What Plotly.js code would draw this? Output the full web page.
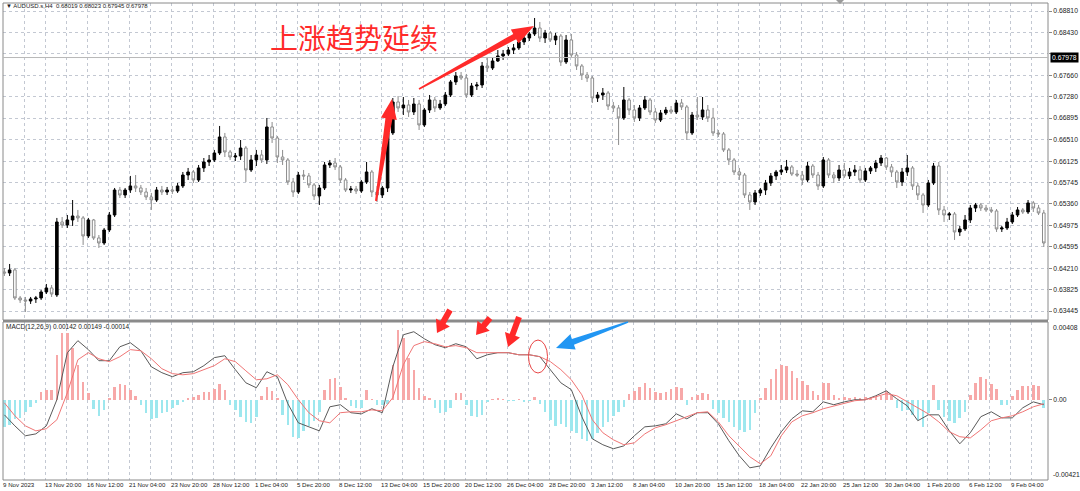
<!DOCTYPE html>
<html><head><meta charset="utf-8">
<script src="https://cdn.plot.ly/plotly-3.0.1.min.js"></script>
<style>html,body{margin:0;padding:0;background:#fff}#chart{width:1080px;height:491px}</style>
</head><body><div id="chart"></div>
<script>
// ---- data (each bar = 8h, i.e. two H4 candles) ----
const timeLabels = ["9 Nov 2023","13 Nov 20:00","16 Nov 12:00","21 Nov 04:00","23 Nov 20:00","28 Nov 12:00","1 Dec 04:00","5 Dec 20:00","8 Dec 12:00","13 Dec 04:00","15 Dec 20:00","20 Dec 12:00","26 Dec 04:00","28 Dec 20:00","3 Jan 12:00","8 Jan 04:00","10 Jan 20:00","15 Jan 12:00","18 Jan 04:00","22 Jan 20:00","25 Jan 12:00","30 Jan 04:00","1 Feb 20:00","6 Feb 12:00","9 Feb 04:00"];
const priceTicks = [0.68810,0.68430,0.68045,0.67660,0.67280,0.66895,0.66510,0.66125,0.65745,0.65360,0.64975,0.64595,0.64210,0.63825,0.63445];
const macdTicks = [0.00408,0,-0.00421];

const open = [
0.64143,0.64125,0.64179,0.63678,0.63642,0.63624,0.63660,0.63678,0.63785,0.63857,
0.63732,0.65037,0.64983,0.65073,0.65144,0.65109,0.64787,0.65073,0.64751,0.64661,
0.64894,0.65162,0.65609,0.65520,0.65609,0.65681,0.65645,0.65573,0.65484,0.65430,
0.65609,0.65573,0.65609,0.65591,0.65681,0.65877,0.65931,0.65788,0.66003,0.66110,
0.66146,0.66271,0.66557,0.66289,0.66199,0.66217,0.66360,0.65967,0.66146,0.66235,
0.66146,0.66736,0.66539,0.66199,0.66146,0.65752,0.65573,0.65877,0.65860,0.65699,
0.65502,0.65645,0.66056,0.66092,0.66021,0.65788,0.65609,0.65627,0.65591,0.65752,
0.65931,0.65573,0.65520,0.65645,0.66629,0.67183,0.67076,0.67129,0.67004,0.67147,
0.66772,0.67040,0.67219,0.67076,0.67147,0.67308,0.67541,0.67648,0.67612,0.67308,
0.67469,0.67487,0.67827,0.67791,0.67916,0.68006,0.68041,0.68113,0.68149,0.68256,
0.68327,0.68399,0.68506,0.68327,0.68417,0.68292,0.68363,0.67898,0.68292,0.68023,
0.67827,0.67666,0.67612,0.67254,0.67308,0.67344,0.67111,0.67076,0.66897,0.67219,
0.67040,0.66897,0.67076,0.67219,0.67004,0.66861,0.66986,0.67040,0.67004,0.67165,
0.67094,0.66629,0.66950,0.66915,0.67040,0.66897,0.66629,0.66611,0.66325,0.66146,
0.65931,0.65877,0.65520,0.65395,0.65556,0.65609,0.65734,0.65860,0.65931,0.65967,
0.66021,0.65895,0.65877,0.65788,0.66038,0.65877,0.65681,0.66146,0.65877,0.65824,
0.65967,0.65860,0.65931,0.65967,0.65788,0.65949,0.66003,0.66092,0.66181,0.66021,
0.65931,0.65752,0.65931,0.66003,0.65681,0.65520,0.65341,0.65734,0.66038,0.65252,
0.65162,0.65180,0.64858,0.64912,0.65073,0.65287,0.65341,0.65287,0.65252,0.65234,
0.64912,0.64930,0.65037,0.65162,0.65252,0.65216,0.65377,0.65287,0.65198];
const high = [
0.64214,0.64286,0.64214,0.63714,0.63696,0.63696,0.63714,0.63821,0.63928,0.63910,
0.65109,0.65126,0.65162,0.65430,0.65252,0.65144,0.65109,0.65091,0.64804,0.64930,
0.65216,0.65645,0.65663,0.65645,0.65860,0.65877,0.65699,0.65645,0.65556,0.65663,
0.65681,0.65663,0.65681,0.65734,0.65931,0.66003,0.65967,0.66056,0.66181,0.66235,
0.66325,0.66754,0.66629,0.66325,0.66271,0.66503,0.66396,0.66235,0.66325,0.66325,
0.66897,0.66825,0.66575,0.66325,0.66181,0.65824,0.65931,0.65967,0.65913,0.65734,
0.65699,0.66110,0.66146,0.66181,0.66056,0.65824,0.65681,0.65681,0.65788,0.66110,
0.65967,0.65681,0.65681,0.66682,0.67254,0.67290,0.67272,0.67219,0.67254,0.67219,
0.67076,0.67308,0.67272,0.67219,0.67362,0.67576,0.67719,0.67719,0.67684,0.67523,
0.67541,0.67898,0.67988,0.67970,0.68113,0.68113,0.68166,0.68220,0.68292,0.68381,
0.68435,0.68685,0.68614,0.68471,0.68453,0.68417,0.68399,0.68381,0.68399,0.68077,
0.67862,0.67719,0.67648,0.67362,0.67433,0.67380,0.67183,0.67129,0.67451,0.67254,
0.67129,0.67129,0.67290,0.67254,0.67076,0.67040,0.67094,0.67111,0.67219,0.67237,
0.67129,0.67004,0.67272,0.67272,0.67129,0.67076,0.66682,0.66646,0.66360,0.66181,
0.66003,0.65913,0.65573,0.65609,0.65645,0.65788,0.65913,0.65967,0.66056,0.66146,
0.66056,0.65967,0.65949,0.66110,0.66074,0.65931,0.66199,0.66181,0.65931,0.66056,
0.66092,0.66003,0.66056,0.66038,0.66003,0.66038,0.66146,0.66235,0.66199,0.66074,
0.65967,0.66003,0.66235,0.66038,0.65734,0.65556,0.65788,0.66092,0.66110,0.65323,
0.65216,0.65216,0.64966,0.65162,0.65341,0.65377,0.65377,0.65341,0.65305,0.65269,
0.64966,0.65109,0.65216,0.65305,0.65287,0.65430,0.65413,0.65341,0.65252];
const low = [
0.64071,0.64071,0.63642,0.63589,0.63427,0.63571,0.63589,0.63642,0.63749,0.63696,
0.63696,0.64930,0.64930,0.64966,0.65037,0.64626,0.64751,0.64715,0.64572,0.64626,
0.64858,0.65126,0.65466,0.65466,0.65556,0.65573,0.65520,0.65430,0.65252,0.65395,
0.65520,0.65520,0.65538,0.65556,0.65645,0.65788,0.65734,0.65752,0.65931,0.66038,
0.66110,0.66235,0.66199,0.66146,0.66128,0.66146,0.65752,0.65931,0.66038,0.66092,
0.66074,0.66450,0.66092,0.66056,0.65699,0.65484,0.65538,0.65788,0.65645,0.65430,
0.65341,0.65609,0.66003,0.65967,0.65734,0.65573,0.65556,0.65538,0.65556,0.65717,
0.65484,0.65395,0.65466,0.65573,0.66593,0.67004,0.66950,0.66915,0.66950,0.66682,
0.66736,0.66986,0.67004,0.67040,0.67111,0.67272,0.67487,0.67576,0.67254,0.67272,
0.67398,0.67433,0.67719,0.67755,0.67898,0.67934,0.68006,0.68041,0.68113,0.68202,
0.68274,0.68363,0.68256,0.68238,0.68256,0.68202,0.67827,0.67862,0.67970,0.67755,
0.67576,0.67541,0.67165,0.67183,0.67219,0.67040,0.67004,0.66414,0.66861,0.66950,
0.66825,0.66843,0.67040,0.66950,0.66807,0.66825,0.66950,0.66968,0.66968,0.67040,
0.66503,0.66593,0.66861,0.66861,0.66825,0.66575,0.66557,0.66289,0.66056,0.65877,
0.65788,0.65466,0.65252,0.65341,0.65502,0.65520,0.65681,0.65788,0.65877,0.65913,
0.65860,0.65842,0.65699,0.65752,0.65824,0.65609,0.65645,0.65824,0.65734,0.65770,
0.65824,0.65806,0.65860,0.65734,0.65752,0.65895,0.65931,0.66038,0.65967,0.65842,
0.65645,0.65681,0.65860,0.65609,0.65430,0.65198,0.65305,0.65699,0.65162,0.65037,
0.65073,0.64715,0.64787,0.64876,0.65019,0.65216,0.65234,0.65216,0.65198,0.64858,
0.64858,0.64894,0.65001,0.65126,0.65180,0.65180,0.65216,0.65162,0.64590];
const close = [
0.64125,0.64179,0.63678,0.63642,0.63624,0.63660,0.63678,0.63785,0.63857,0.63749,
0.65037,0.64983,0.65073,0.65144,0.65109,0.64787,0.65073,0.64751,0.64661,0.64894,
0.65162,0.65609,0.65520,0.65609,0.65681,0.65645,0.65573,0.65484,0.65430,0.65609,
0.65573,0.65609,0.65591,0.65681,0.65877,0.65931,0.65788,0.66003,0.66110,0.66146,
0.66271,0.66557,0.66289,0.66199,0.66217,0.66360,0.65967,0.66146,0.66235,0.66146,
0.66736,0.66539,0.66199,0.66146,0.65752,0.65573,0.65877,0.65860,0.65699,0.65502,
0.65645,0.66056,0.66092,0.66021,0.65788,0.65609,0.65627,0.65591,0.65752,0.65931,
0.65573,0.65520,0.65645,0.66629,0.67183,0.67076,0.67129,0.67004,0.67147,0.66772,
0.67040,0.67219,0.67076,0.67147,0.67308,0.67541,0.67648,0.67612,0.67308,0.67469,
0.67487,0.67827,0.67791,0.67916,0.68006,0.68041,0.68113,0.68149,0.68256,0.68327,
0.68399,0.68506,0.68327,0.68417,0.68292,0.68363,0.67898,0.68292,0.68023,0.67827,
0.67666,0.67612,0.67254,0.67308,0.67344,0.67111,0.67076,0.66897,0.67219,0.67040,
0.66897,0.67076,0.67219,0.67004,0.66861,0.66986,0.67040,0.67004,0.67165,0.67094,
0.66629,0.66950,0.66915,0.67040,0.66897,0.66629,0.66611,0.66325,0.66146,0.65931,
0.65877,0.65520,0.65395,0.65556,0.65609,0.65734,0.65860,0.65931,0.65967,0.66021,
0.65895,0.65877,0.65788,0.66038,0.65877,0.65681,0.66146,0.65877,0.65824,0.65967,
0.65860,0.65931,0.65967,0.65788,0.65949,0.66003,0.66092,0.66181,0.66021,0.65931,
0.65752,0.65931,0.66003,0.65681,0.65520,0.65341,0.65734,0.66038,0.65252,0.65162,
0.65180,0.64858,0.64912,0.65073,0.65287,0.65341,0.65287,0.65252,0.65234,0.64912,
0.64930,0.65037,0.65162,0.65252,0.65216,0.65377,0.65287,0.65198,0.64661];

// MACD main & signal, sampled every second bar
const macd = [
-0.00079,-0.00137,-0.00189,-0.00179,-0.00137,0.00000,0.00247,0.00310,0.00263,0.00205,
0.00205,0.00278,0.00299,0.00257,0.00173,0.00142,0.00121,0.00142,0.00147,0.00179,
0.00221,0.00231,0.00158,0.00089,0.00063,0.00147,0.00121,-0.00021,-0.00121,-0.00142,
-0.00163,-0.00037,-0.00026,-0.00068,-0.00074,-0.00047,-0.00068,0.00173,0.00341,0.00357,
0.00320,0.00289,0.00273,0.00294,0.00278,0.00215,0.00236,0.00247,0.00247,0.00236,
0.00236,0.00226,0.00158,0.00089,0.00053,-0.00089,-0.00205,-0.00236,-0.00257,-0.00242,
-0.00189,-0.00142,-0.00137,-0.00126,-0.00074,-0.00100,-0.00068,-0.00068,-0.00126,-0.00215,
-0.00294,-0.00357,-0.00347,-0.00252,-0.00168,-0.00100,-0.00058,-0.00063,-0.00011,-0.00026,
-0.00011,0.00000,0.00000,0.00021,0.00047,0.00005,-0.00032,-0.00110,-0.00079,-0.00079,
-0.00163,-0.00231,-0.00173,-0.00089,-0.00063,-0.00095,-0.00095,-0.00042,-0.00011,-0.00026];
const signal = [
-0.00016,-0.00084,-0.00137,-0.00163,-0.00152,-0.00105,0.00037,0.00210,0.00247,0.00215,
0.00200,0.00226,0.00263,0.00257,0.00215,0.00163,0.00137,0.00131,0.00137,0.00158,
0.00179,0.00215,0.00200,0.00152,0.00105,0.00110,0.00131,0.00079,0.00000,-0.00068,
-0.00110,-0.00121,-0.00068,-0.00063,-0.00063,-0.00053,-0.00058,0.00011,0.00184,0.00284,
0.00305,0.00294,0.00278,0.00284,0.00273,0.00247,0.00247,0.00247,0.00247,0.00236,
0.00236,0.00226,0.00200,0.00158,0.00105,0.00026,-0.00105,-0.00173,-0.00210,-0.00236,
-0.00226,-0.00179,-0.00147,-0.00131,-0.00110,-0.00089,-0.00068,-0.00063,-0.00116,-0.00189,
-0.00242,-0.00299,-0.00336,-0.00294,-0.00189,-0.00116,-0.00084,-0.00068,-0.00047,-0.00032,
-0.00016,-0.00005,0.00000,0.00016,0.00032,0.00021,-0.00011,-0.00042,-0.00074,-0.00116,
-0.00168,-0.00194,-0.00200,-0.00158,-0.00110,-0.00095,-0.00084,-0.00063,-0.00037,-0.00021];
// histogram, one value per bar
const hist = [
-0.00142,-0.00131,-0.00100,-0.00095,-0.00063,-0.00037,-0.00016,0.00042,0.00053,0.00053,
0.00236,0.00352,0.00352,0.00273,0.00184,0.00095,0.00037,-0.00047,-0.00084,-0.00053,
0.00011,0.00068,0.00084,0.00079,0.00053,0.00021,-0.00026,-0.00068,-0.00100,-0.00095,
-0.00068,-0.00063,-0.00042,-0.00026,-0.00011,0.00011,0.00016,0.00026,0.00042,0.00042,
0.00058,0.00084,0.00053,-0.00026,-0.00053,-0.00089,-0.00116,-0.00121,-0.00089,0.00021,
0.00068,0.00047,0.00011,-0.00079,-0.00131,-0.00194,-0.00200,-0.00163,-0.00137,-0.00110,
-0.00063,0.00053,0.00110,0.00116,0.00068,0.00011,-0.00032,-0.00042,-0.00042,0.00053,
0.00003,-0.00026,-0.00026,-0.00021,0.00184,0.00368,0.00326,0.00221,0.00158,0.00063,
0.00021,0.00011,-0.00042,-0.00068,-0.00063,-0.00042,0.00037,0.00037,-0.00026,-0.00084,
-0.00089,-0.00079,-0.00011,0.00005,0.00011,0.00003,-0.00005,-0.00005,0.00003,-0.00011,
-0.00005,0.00016,-0.00021,-0.00063,-0.00105,-0.00137,-0.00126,-0.00142,-0.00163,-0.00173,
-0.00205,-0.00215,-0.00205,-0.00173,-0.00142,-0.00116,-0.00084,-0.00063,-0.00037,0.00032,
0.00047,0.00068,0.00089,0.00063,0.00042,0.00037,0.00042,0.00058,0.00068,0.00063,
-0.00026,0.00016,0.00026,0.00037,0.00032,-0.00047,-0.00068,-0.00095,-0.00116,-0.00142,
-0.00158,-0.00168,-0.00158,-0.00068,0.00011,0.00063,0.00110,0.00163,0.00184,0.00179,
0.00152,0.00116,0.00100,0.00079,0.00047,0.00026,0.00089,0.00089,0.00026,0.00011,
0.00016,0.00011,0.00016,0.00011,0.00016,0.00011,0.00016,0.00021,0.00047,0.00026,
-0.00042,-0.00058,-0.00053,-0.00079,-0.00105,-0.00142,-0.00068,0.00079,-0.00053,-0.00089,
-0.00110,-0.00121,-0.00095,-0.00063,0.00026,0.00089,0.00121,0.00110,0.00084,0.00058,
-0.00026,-0.00026,0.00021,0.00053,0.00074,0.00074,0.00079,0.00074,-0.00042];

const headerText = "▼ AUDUSD.s,H4  0.68019 0.68023 0.67945 0.67978";
const macdText = "MACD(12,26,9) 0.00142 0.00149 -0.00014";
const bidPrice = 0.67978;
const noteText = "上涨趋势延续";

// ---- build ----
const xi = close.map((_, i) => i);
const xm = macd.map((_, k) => 2 * k);

const gridVals = [], gridText = [];
for (let k = 0; k < 50; k++) { gridVals.push(-0.25 + 4 * k); gridText.push(k % 2 === 0 ? (timeLabels[k / 2] || '') : ''); }

const W = 1080, H = 491, ML = 3, MR = 32, MT = 3, MB = 11;
const PW = W - ML - MR, PH = H - MT - MB;
const px = v => (v - ML) / PW;
const py = v => (H - MB - v) / PH;

function arrow(x0, y0, x1, y1, w0, w1, wh, hl) {
  const dx = x1 - x0, dy = y1 - y0, L = Math.hypot(dx, dy);
  const ux = dx / L, uy = dy / L, nx = -uy, ny = ux;
  const bx = x1 - ux * hl, by = y1 - uy * hl;
  const pts = [
    [x0 + nx * w0, y0 + ny * w0], [bx + nx * w1, by + ny * w1], [bx + nx * wh, by + ny * wh],
    [x1, y1], [bx - nx * wh, by - ny * wh], [bx - nx * w1, by - ny * w1], [x0 - nx * w0, y0 - ny * w0]];
  return 'M' + pts.map(p => px(p[0]).toFixed(5) + ',' + py(p[1]).toFixed(5)).join(' L') + ' Z';
}
const RED = '#ff2a2a', BLUE = '#2196f3';
const shapes = [
  {type:'rect', xref:'paper', yref:'paper', x0:0, x1:1, y0:py(320), y1:1, line:{color:'#8a8a8a', width:1}},
  {type:'rect', xref:'paper', yref:'paper', x0:0, x1:1, y0:0, y1:py(322), line:{color:'#8a8a8a', width:1}},
  {type:'line', xref:'paper', yref:'paper', x0:0, x1:1, y0:py(321), y1:py(321), line:{color:'#777', width:1.5}},
  {type:'line', xref:'paper', yref:'y', x0:0, x1:1, y0:bidPrice, y1:bidPrice, line:{color:'#b8b8b8', width:1}},
  {type:'path', xref:'paper', yref:'paper', path:arrow(376,201,392,99,1,3.5,8,20), fillcolor:RED, line:{width:0}},
  {type:'path', xref:'paper', yref:'paper', path:arrow(419,89,534,26,0.8,3,8,22), fillcolor:RED, line:{width:0}},
  {type:'path', xref:'paper', yref:'paper', path:arrow(450,310,437,333,3,3,8,12), fillcolor:RED, line:{width:0}},
  {type:'path', xref:'paper', yref:'paper', path:arrow(490,318,476,335,3,3,8,12), fillcolor:RED, line:{width:0}},
  {type:'path', xref:'paper', yref:'paper', path:arrow(519,317,508,347,3,3,8,13), fillcolor:RED, line:{width:0}},
  {type:'path', xref:'paper', yref:'paper', path:arrow(628,322,556,348,0.8,3,8,18), fillcolor:BLUE, line:{width:0}},
  {type:'circle', xref:'paper', yref:'paper', x0:px(528.5), x1:px(547.5), y0:py(373), y1:py(340), line:{color:'#e84545', width:1}},
  {type:'path', xref:'paper', yref:'paper', path:'M'+px(836)+','+py(0)+' L'+px(844)+','+py(0)+' L'+px(840)+','+py(4)+' Z', fillcolor:'#9a9a9a', line:{width:0}}
];

const FAM = 'Liberation Sans, Arial, sans-serif';
const fnt = {family:FAM, size:6.8, color:'#222'};
const xfnt = {family:FAM, size:6.1, color:'#222'};
const annotations = [
  {xref:'paper', yref:'paper', x:px(4), y:py(6), xanchor:'left', yanchor:'middle', text:headerText, showarrow:false,
   font:{family:FAM, size:6, color:'#222'}},
  {xref:'paper', yref:'paper', x:px(4), y:py(327), xanchor:'left', yanchor:'middle', text:macdText, showarrow:false,
   font:{family:FAM, size:6.5, color:'#222'}},
  {xref:'paper', yref:'paper', x:px(268), y:py(37), xanchor:'left', yanchor:'middle', text:noteText, showarrow:false,
   font:{family:'Noto Sans CJK SC, sans-serif', size:28, color:RED}},
  {xref:'paper', yref:'y', x:1, xshift:2, y:bidPrice, xanchor:'left', yanchor:'middle', text:bidPrice.toFixed(5), showarrow:false,
   bgcolor:'#000', borderpad:1, font:{family:FAM, size:6.8, color:'#fff'}},
  {xref:'paper', yref:'y2', x:1, xshift:3, y:macdTicks[0], xanchor:'left', yanchor:'top', text:macdTicks[0].toFixed(5), showarrow:false, font:fnt},
  {xref:'paper', yref:'y2', x:1, xshift:3, y:macdTicks[2], xanchor:'left', yanchor:'bottom', text:macdTicks[2].toFixed(5), showarrow:false, font:fnt}
];

const traces = [
  {type:'candlestick', x:xi, open:open, high:high, low:low, close:close, xaxis:'x', yaxis:'y',
   increasing:{line:{color:'#000', width:1}, fillcolor:'#000'},
   decreasing:{line:{color:'#8c8c8c', width:1}, fillcolor:'#fff'},
   whiskerwidth:0, hoverinfo:'skip', showlegend:false},
  {type:'bar', x:xi, y:hist, xaxis:'x', yaxis:'y2', width:0.5,
   marker:{color:hist.map(v => v >= 0 ? '#f7a8a8' : '#9de7ee'), line:{width:0}}, hoverinfo:'skip', showlegend:false},
  {type:'scatter', mode:'lines', x:xm, y:macd, xaxis:'x', yaxis:'y2', line:{color:'#5a5a5a', width:1}, hoverinfo:'skip', showlegend:false},
  {type:'scatter', mode:'lines', x:xm, y:signal, xaxis:'x', yaxis:'y2', line:{color:'#f07575', width:1}, hoverinfo:'skip', showlegend:false}
];

const layout = {
  width:W, height:H, margin:{l:ML, r:MR, t:MT, b:MB, pad:0},
  paper_bgcolor:'#fff', plot_bgcolor:'#fff', showlegend:false, hovermode:false, bargap:0,
  xaxis:{domain:[0,1], anchor:'y2', range:[-0.26, 198.8], tickvals:gridVals, ticktext:gridText, ticks:'', tickangle:0,
    ticklabelposition:'outside right', ticklabelstandoff:0, tickfont:xfnt, showgrid:true, gridcolor:'#c3c8d2', griddash:'dot', gridwidth:1,
    zeroline:false, showline:false, rangeslider:{visible:false}, automargin:false, fixedrange:true},
  yaxis:{domain:[py(320),1], anchor:'x', side:'right', range:[0.63284, 0.68953], tickvals:priceTicks,
    ticktext:priceTicks.map(v => v === 0.68045 ? '' : v.toFixed(5)), ticks:'outside', ticklen:3, tickcolor:'#888', tickfont:fnt,
    showgrid:true, gridcolor:'#c3c8d2', griddash:'dot', gridwidth:1, zeroline:false, automargin:false, fixedrange:true},
  yaxis2:{domain:[0,py(322)], anchor:'x', side:'right', range:[macdTicks[2], macdTicks[0]], tickvals:[macdTicks[1]],
    ticktext:['0.00'], ticks:'outside', ticklen:3, tickcolor:'#888', tickfont:fnt, showgrid:false, zeroline:false,
    automargin:false, fixedrange:true},
  shapes:shapes, annotations:annotations
};
Plotly.newPlot('chart', traces, layout, {displayModeBar:false, staticPlot:true});
</script></body></html>
